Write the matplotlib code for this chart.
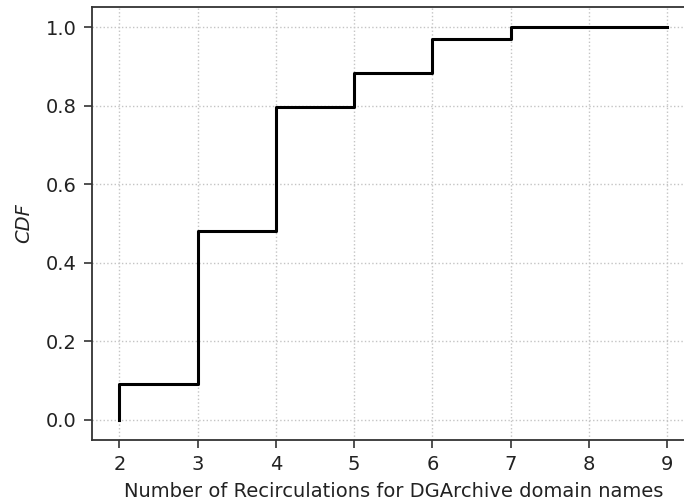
import matplotlib
matplotlib.use("Agg")
import matplotlib.pyplot as plt

# Data: number of recirculations and the cumulative fraction
recirculations = [2, 2, 3, 4, 5, 6, 7, 9]
cdf_values = [0.0, 0.092, 0.481, 0.796, 0.883, 0.969, 1.0, 1.0]
xticks = [2, 3, 4, 5, 6, 7, 8, 9]
yticks = [0.0, 0.2, 0.4, 0.6, 0.8, 1.0]

fig = plt.figure(figsize=(6.84, 5.0), dpi=100)
ax = fig.add_axes([0.1345, 0.1208, 0.8807, 0.8644])

ax.step(recirculations, cdf_values, where="post", color="black", linewidth=2.2)

ax.set_xlim(1.65, 9.35)
ax.set_ylim(-0.05, 1.05)
ax.set_xticks(xticks)
ax.set_yticks(yticks)
ax.set_yticklabels([f"{v:.1f}" for v in yticks])
ax.tick_params(labelsize=14, colors="#333333", labelcolor="#222222",
               length=6, width=1.2, pad=5)
for s in ax.spines.values():
    s.set_color("#333333")
    s.set_linewidth(1.3)

ax.grid(True, linestyle=":", color="#c4c4c4", linewidth=1)
ax.set_xlabel("Number of Recirculations for DGArchive domain names",
              fontsize=14, color="#222222", labelpad=6)
ax.set_ylabel("CDF", fontsize=14, style="italic", color="#222222", labelpad=9)

fig.savefig("out.png", dpi=100)
